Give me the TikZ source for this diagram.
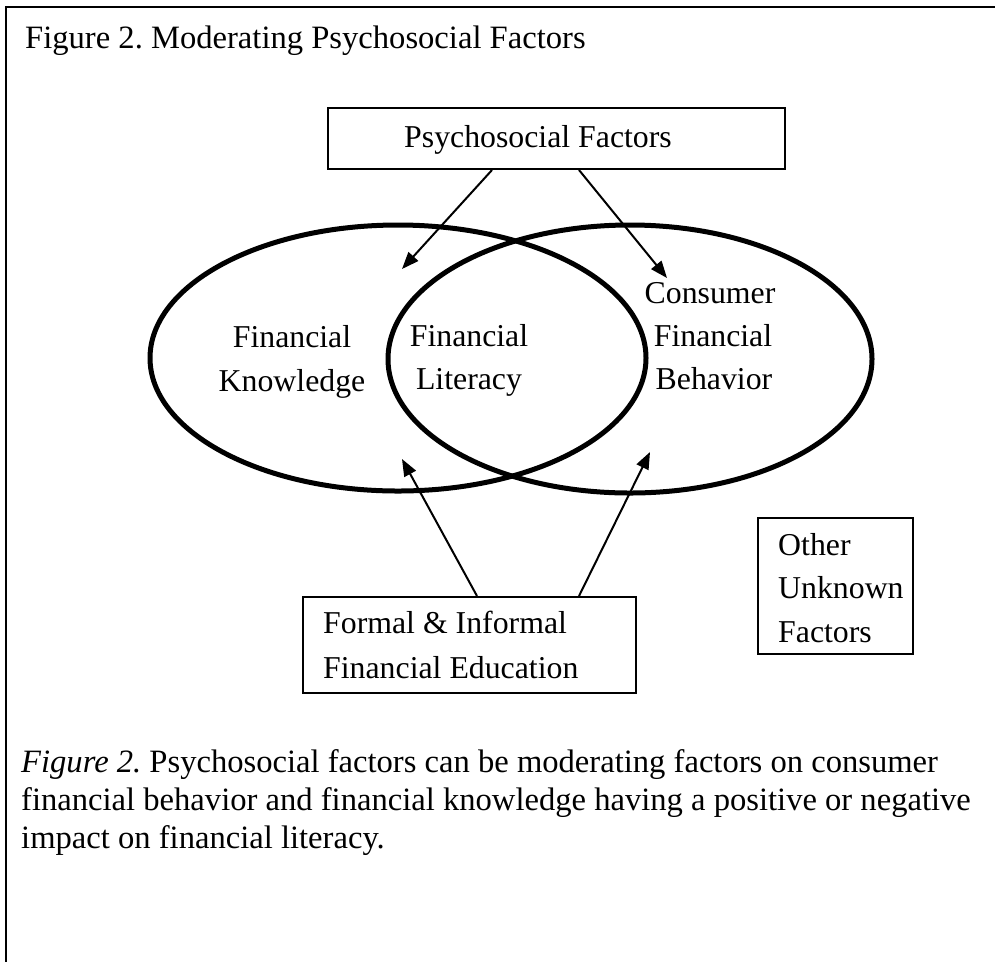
\documentclass[tikz,border=0pt]{standalone}
\usepackage{fontspec}
\setmainfont{Liberation Serif}
\usetikzlibrary{shapes.geometric,arrows.meta}
\frenchspacing

\begin{document}
\begin{tikzpicture}[x=1pt,y=-1pt,
  every node/.style={font=\fontsize{31.8}{38}\selectfont},
  txt/.style={inner sep=0pt},
  big/.style={txt,anchor=base west,font=\fontsize{32.6}{38}\selectfont},
  box/.style={draw,line width=2pt,inner sep=0pt,anchor=north west},
  ring/.style={draw,ellipse,line width=5pt,inner sep=0pt},
  link/.style={line width=2pt,-{Triangle[length=17pt,width=13pt]}},
  frame/.style={line width=2.2pt}]

\useasboundingbox (0,0) rectangle (995,962);

% page frame (open to the right and bottom)
\draw[frame] (995,7) -- (6,7) -- (6,962);

% heading
\node[big] (title) at (25,48) {Figure 2. Moderating Psychosocial Factors};

% moderator box
\node[box,minimum width=457pt,minimum height=61pt] (psy) at (327,107) {};
\node[txt,anchor=base west] (psytxt) at (404,147) {Psychosocial Factors};

% overlapping ellipses
\node[ring,minimum width=496pt,minimum height=266pt] (know) at (398,358) {};
\node[ring,minimum width=484pt,minimum height=268pt] (behav) at (630,359) {};

\node[txt,anchor=base] (k1) at (292,347) {Financial};
\node[txt,anchor=base] (k2) at (292,391) {Knowledge};

\node[txt,anchor=base] (l1) at (469,346) {Financial};
\node[txt,anchor=base] (l2) at (469,389) {Literacy};

\node[txt,anchor=base] (b1) at (710,303) {Consumer};
\node[txt,anchor=base] (b2) at (713,346) {Financial};
\node[txt,anchor=base] (b3) at (714,389) {Behavior};

% education box
\node[box,minimum width=333pt,minimum height=96pt] (edu) at (302,596) {};
\node[txt,anchor=base west] (e1) at (323,633) {Formal \& Informal};
\node[txt,anchor=base west] (e2) at (323,678) {Financial Education};

% other factors box
\node[box,minimum width=155pt,minimum height=136pt] (other) at (757,517) {};
\node[txt,anchor=base west] (o1) at (778,555) {Other};
\node[txt,anchor=base west] (o2) at (778,598) {Unknown};
\node[txt,anchor=base west] (o3) at (778,642) {Factors};

% arrow ends
\coordinate (psyL) at ([xshift=165pt]psy.south west);
\coordinate (psyR) at ([xshift=252pt]psy.south west);
\coordinate (tipKtop) at (402,269);
\coordinate (tipBtop) at (667,278);
\coordinate (eduL) at ([xshift=175pt]edu.north west);
\coordinate (eduR) at ([xshift=277pt]edu.north west);
\coordinate (tipKbot) at (402,459);
\coordinate (tipBbot) at (650,452);

\draw[link] (psyL) -- (tipKtop);
\draw[link] (psyR) -- (tipBtop);
\draw[link] (eduL) -- (tipKbot);
\draw[link] (eduR) -- (tipBbot);

% caption
\node[big] (c1) at (21,772) {\textit{Figure 2.} Psychosocial factors can be moderating factors on consumer};
\node[big] (c2) at (21,810) {financial behavior and financial knowledge having a positive or negative};
\node[big] (c3) at (21,848) {impact on financial literacy.};
\end{tikzpicture}
\end{document}
